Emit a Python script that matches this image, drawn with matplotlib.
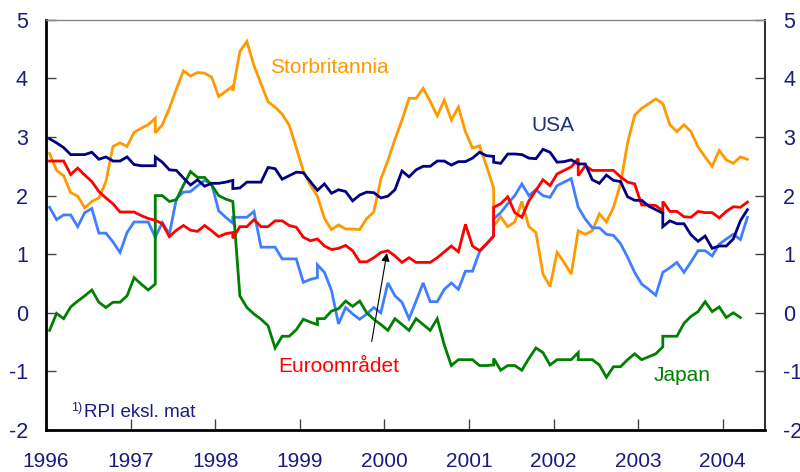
import numpy as np
import matplotlib.pyplot as plt

# Månedlige tall jan 1996 - apr 2004 (prosent)
start_year = 1996
usa = [2.97, 2.90, 2.82, 2.70, 2.70, 2.70, 2.74, 2.62, 2.66, 2.59,
       2.59, 2.66, 2.53, 2.51, 2.51, 2.66, 2.57, 2.44, 2.43, 2.30,
       2.18, 2.27, 2.16, 2.21, 2.21, 2.23, 2.12, 2.13, 2.23, 2.23,
       2.23, 2.48, 2.46, 2.28, 2.34, 2.40, 2.39, 2.24, 2.09, 2.20,
       2.04, 2.10, 2.07, 1.91, 2.01, 2.06, 2.05, 1.96, 1.99, 2.10,
       2.42, 2.32, 2.44, 2.50, 2.50, 2.59, 2.59, 2.52, 2.58, 2.58,
       2.64, 2.74, 2.68, 2.57, 2.55, 2.71, 2.71, 2.70, 2.64, 2.63,
       2.79, 2.74, 2.57, 2.58, 2.61, 2.54, 2.54, 2.27, 2.21, 2.35,
       2.26, 2.24, 1.98, 1.92, 1.92, 1.82, 1.76, 1.47, 1.57, 1.52,
       1.52, 1.33, 1.22, 1.31, 1.10, 1.14, 1.14, 1.26, 1.57, 1.76]
usa_breaks = {15: 2.51, 26: 2.26, 63: 2.67, 87: 1.70}

uk = [2.72, 2.43, 2.34, 2.05, 1.99, 1.79, 1.90, 1.96, 2.24, 2.84,
      2.90, 2.84, 3.08, 3.15, 3.21, 3.07, 3.21, 3.49, 3.82, 4.13,
      4.04, 4.10, 4.09, 4.02, 3.69, 3.78, 3.79, 4.46, 4.63, 4.22,
      3.91, 3.60, 3.51, 3.39, 3.20, 2.82, 2.42, 2.18, 1.99, 1.61,
      1.42, 1.50, 1.43, 1.43, 1.42, 1.61, 1.72, 2.28, 2.60, 2.96,
      3.29, 3.66, 3.66, 3.83, 3.61, 3.36, 3.63, 3.29, 3.51, 3.09,
      2.81, 2.85, 2.50, 1.48, 1.64, 1.47, 1.55, 1.90, 1.47, 1.37,
      0.66, 0.45, 1.03, 0.86, 0.66, 1.40, 1.34, 1.40, 1.69, 1.55,
      1.80, 2.20, 2.90, 3.37, 3.49, 3.57, 3.65, 3.57, 3.21, 3.09,
      3.21, 3.09, 2.83, 2.66, 2.50, 2.77, 2.61, 2.55, 2.66, 2.62]
uk_breaks = {15: 3.32, 26: 3.87, 63: 2.13}

euro = [2.59, 2.59, 2.59, 2.36, 2.47, 2.35, 2.24, 2.07, 1.96, 1.86,
        1.72, 1.72, 1.72, 1.66, 1.61, 1.58, 1.52, 1.30, 1.41, 1.49,
        1.41, 1.39, 1.49, 1.40, 1.30, 1.35, 1.27, 1.47, 1.47, 1.59,
        1.47, 1.47, 1.57, 1.57, 1.49, 1.46, 1.29, 1.23, 1.26, 1.14,
        1.08, 1.10, 1.15, 1.06, 0.87, 0.87, 0.94, 1.03, 1.06, 0.97,
        0.86, 0.94, 0.86, 0.86, 0.86, 0.94, 1.04, 1.14, 1.04, 1.51,
        1.14, 1.06, 1.18, 1.80, 1.86, 1.98, 1.71, 1.63, 1.91, 2.09,
        2.27, 2.17, 2.37, 2.43, 2.49, 2.34, 2.51, 2.43, 2.43, 2.43,
        2.43, 2.32, 2.23, 2.20, 1.84, 1.84, 1.83, 1.90, 1.73, 1.73,
        1.64, 1.63, 1.73, 1.71, 1.71, 1.62, 1.73, 1.81, 1.80, 1.89]
euro_breaks = {26: 1.37, 63: 1.31, 75: 2.63, 87: 1.74}

# lyseblå serie (RPI eksl. mat)
rpi = [1.80, 1.59, 1.67, 1.67, 1.47, 1.71, 1.78, 1.36, 1.36, 1.21,
       1.03, 1.37, 1.55, 1.55, 1.55, 1.29, 1.54, 1.34, 1.95, 2.06,
       2.07, 2.17, 2.26, 2.20, 1.74, 1.63, 1.63, 1.63, 1.63, 1.73,
       1.12, 1.12, 1.12, 0.92, 0.92, 0.92, 0.52, 0.57, 0.82, 0.69,
       0.38, -0.19, 0.09, -0.02, -0.11, -0.02, 0.09, 0.00, 0.51, 0.29,
       0.18, -0.10, 0.20, 0.51, 0.19, 0.19, 0.40, 0.51, 0.40, 0.71,
       0.71, 1.04, 1.17, 1.60, 1.71, 1.86, 2.00, 2.20, 2.00, 2.10,
       2.00, 1.97, 2.17, 2.23, 2.29, 1.80, 1.60, 1.45, 1.45, 1.34,
       1.32, 1.18, 0.95, 0.69, 0.49, 0.40, 0.30, 0.69, 0.77, 0.86,
       0.69, 0.87, 1.06, 1.06, 0.97, 1.17, 1.26, 1.34, 1.25, 1.63]
rpi_breaks = {26: 1.53, 38: 0.60, 63: 1.31}

japan = [-0.30, -0.01, -0.10, 0.10, 0.20, 0.29, 0.39, 0.18, 0.09, 0.18,
         0.18, 0.29, 0.60, 0.49, 0.39, 2.00, 2.00, 1.90, 1.93, 2.18,
         2.41, 2.31, 2.31, 2.18, 2.00, 1.94, 1.90, 0.29, 0.09, -0.02,
         -0.11, -0.22, -0.60, -0.40, -0.40, -0.29, -0.11, -0.16, -0.10, -0.10,
         0.03, 0.07, 0.20, 0.11, 0.20, 0.00, -0.11, -0.20, -0.30, -0.10,
         -0.20, -0.30, -0.10, -0.20, -0.30, -0.10, -0.55, -0.90, -0.80, -0.80,
         -0.80, -0.90, -0.90, -0.78, -0.98, -0.90, -0.90, -0.98, -0.78, -0.60,
         -0.68, -0.89, -0.80, -0.80, -0.80, -0.80, -0.80, -0.80, -0.89, -1.10,
         -0.92, -0.92, -0.80, -0.70, -0.80, -0.75, -0.70, -0.40, -0.40, -0.40,
         -0.18, -0.06, 0.02, 0.19, 0.02, 0.10, -0.08, 0.00, -0.08, np.nan]
japan_breaks = {15: 0.49, 38: -0.20, 63: -0.89, 75: -0.68, 87: -0.58}

years = list(range(1996, 2005))
yticks = list(range(-2, 6))

navy = '#000080'
text_navy = '#1a1a80'


def series_xy(values, breaks):
    """Månedsverdier -> x/y, med loddrett hopp der serien er skjøtet"""
    xs, ys = [], []
    for m, v in enumerate(values):
        t = start_year + (m + 0.5) / 12
        if m in breaks:
            xs.append(t)
            ys.append(breaks[m])
        xs.append(t)
        ys.append(v)
    return xs, ys


plt.rcParams['font.family'] = ['Liberation Sans', 'DejaVu Sans']
plt.rcParams['axes.unicode_minus'] = False

fig = plt.figure(figsize=(8, 4.72), dpi=100)
ax = fig.add_axes([0.0575, 0.089, 0.8988, 0.869])

lw = 2.0
for vals, brk, col in [(uk, uk_breaks, '#ff9900'),
                       (rpi, rpi_breaks, '#3f7fff'),
                       (japan, japan_breaks, '#008000'),
                       (euro, euro_breaks, '#ff0000'),
                       (usa, usa_breaks, navy)]:
    xs, ys = series_xy(vals, brk)
    ax.plot(xs, ys, color=col, lw=lw, solid_joinstyle='miter')

ax.set_xlim(1996, 2004.5)
ax.set_ylim(-2, 5)
ax.set_xticks(years)
ax.set_xticklabels([str(y) for y in years])
ax.set_yticks(yticks)

ax.tick_params(axis='x', direction='in', length=8, width=1, pad=16,
               labelsize=15, labelcolor=text_navy, color='#444444')
ax.tick_params(axis='y', direction='in', length=7, width=1, pad=13,
               labelsize=15.5, labelcolor=text_navy, color='#444444',
               right=True, labelright=True)

for side in ['left', 'bottom']:
    ax.spines[side].set_linewidth(2)
    ax.spines[side].set_color('black')
ax.spines['right'].set_linewidth(1.5)
ax.spines['right'].set_color('#333333')
ax.spines['top'].set_linewidth(1)
ax.spines['top'].set_color('#888888')

# Serienavn
ax.text(1998.65, 4.18, 'Storbritannia', color='#ff9900', fontsize=15, va='center')
ax.text(2001.74, 3.19, 'USA', color='#1f2f7a', fontsize=15, va='center')
ax.text(1998.74, -0.92, 'Euroområdet', color='#ff0000', fontsize=15, va='center')
ax.text(2003.18, -1.07, 'Japan', color='#008000', fontsize=15, va='center')

ax.annotate('', xy=(2000.03, 1.02), xytext=(1999.85, -0.49),
            arrowprops=dict(arrowstyle='-|>', color='black', lw=0.8,
                            mutation_scale=12, shrinkA=0, shrinkB=0))

# Fotnote
ax.text(1996.3, -1.62, '1)', color=text_navy, fontsize=9, va='center')
ax.text(1996.45, -1.70, 'RPI eksl. mat', color=text_navy, fontsize=13.5, va='center')

fig.savefig('out.png', dpi=100, facecolor='white')
